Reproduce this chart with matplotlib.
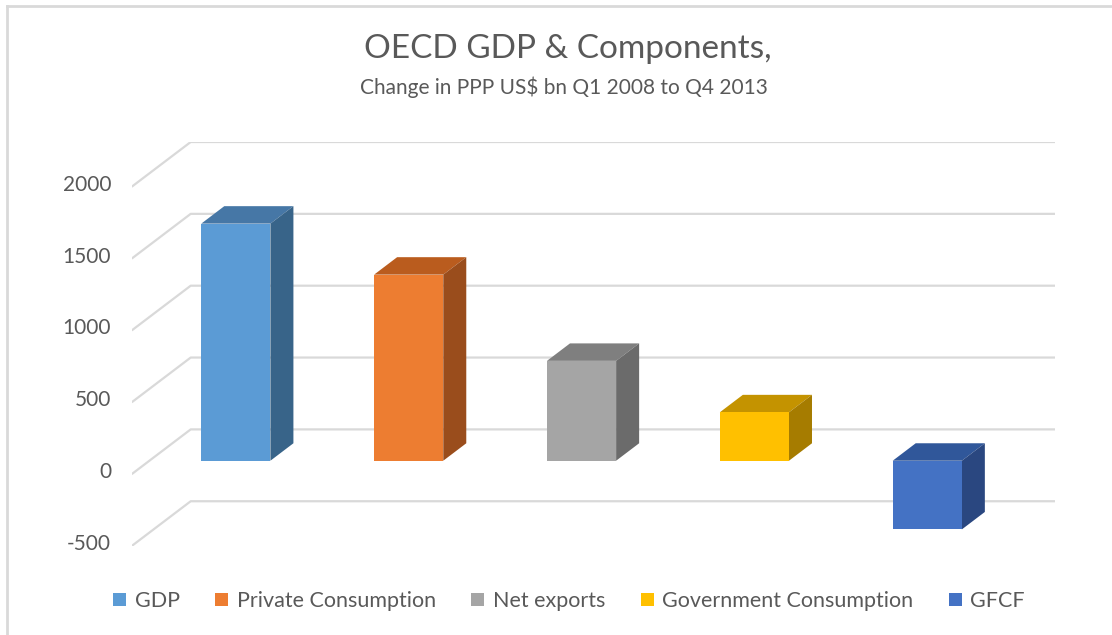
import matplotlib
matplotlib.use("Agg")
import matplotlib.pyplot as plt
from matplotlib.patches import Polygon, Patch
from matplotlib.transforms import ScaledTranslation
from matplotlib.lines import Line2D

# ---- data ----
categories = ["GDP", "Private Consumption", "Net exports", "Government Consumption", "GFCF"]
values = [1650, 1295, 695, 337, -478]
yticks = [-500, 0, 500, 1000, 1500, 2000]
front_colors = ["#5B9BD5", "#ED7D31", "#A5A5A5", "#FFC000", "#4472C4"]
top_colors = ["#4677A6", "#BA5C1E", "#7F7F7F", "#C49300", "#30579A"]
side_colors = ["#386489", "#9A4D1C", "#6B6B6B", "#A67C00", "#2A4780"]
title = "OECD GDP & Components,"
subtitle = "Change in PPP US$ bn Q1 2008 to Q4 2013"

FONT = ["Lato", "DejaVu Sans"]
plt.rcParams["font.family"] = FONT
TXT = "#595959"

W, H = 1112, 635
fig = plt.figure(figsize=(W / 100, H / 100), dpi=100)

# border (top + left visible)
fig.add_artist(Line2D([7 / W, 7 / W], [0, 1 - 6 / H], transform=fig.transFigure, color="#D9D9D9", lw=2))
fig.add_artist(Line2D([7 / W, 1], [1 - 6 / H, 1 - 6 / H], transform=fig.transFigure, color="#D9D9D9", lw=2))

x0px, x1px = 131.7, 1055.0
ytop_px, ybot_px = 142.0, 546.0
ax = fig.add_axes([x0px / W, 1 - ybot_px / H, (x1px - x0px) / W, (ybot_px - ytop_px) / H])

n = len(categories)
px_per_cat = (x1px - x0px) / (n + 59.0 / 172.85)
ddx = 59.0 / px_per_cat
px_per_val = 71.75 / 500
ddy = 44.7 / px_per_val

ax.set_xlim(-0.5, n - 0.5 + ddx)
ax.set_ylim(yticks[0], yticks[-1] + ddy)
for s in ax.spines.values():
    s.set_visible(False)
ax.set_xticks([])

# gridlines on side wall + back wall
for v in yticks:
    ax.plot([-0.5, -0.5 + ddx, n - 0.5 + ddx], [v, v + ddy, v + ddy],
            color="#D9D9D9", lw=1.6, zorder=1, solid_capstyle="butt")

d0, d1 = 0.30, 0.69
w = 0.40
xs = list(range(n))
ax.bar([x + d0 * ddx for x in xs], values, width=w, bottom=d0 * ddy,
       color=front_colors, zorder=3, linewidth=0)
for x, v, tc, sc in zip(xs, values, top_colors, side_colors):
    xl, xr = x - w / 2, x + w / 2
    t, b = max(v, 0), min(v, 0)
    top = [(xl + d0 * ddx, t + d0 * ddy), (xr + d0 * ddx, t + d0 * ddy),
           (xr + d1 * ddx, t + d1 * ddy), (xl + d1 * ddx, t + d1 * ddy)]
    side = [(xr + d0 * ddx, b + d0 * ddy), (xr + d1 * ddx, b + d1 * ddy),
            (xr + d1 * ddx, t + d1 * ddy), (xr + d0 * ddx, t + d0 * ddy)]
    ax.add_patch(Polygon(top, closed=True, facecolor=tc, edgecolor="none", zorder=2))
    ax.add_patch(Polygon(side, closed=True, facecolor=sc, edgecolor="none", zorder=2))

ax.set_yticks(yticks)
ax.set_yticklabels([str(v) for v in yticks])
ax.tick_params(axis="y", length=0, pad=20.7 * 0.72, labelsize=15, labelcolor=TXT)
for lab in ax.get_yticklabels():
    lab.set_transform(lab.get_transform() + ScaledTranslation(0, 4 / 100, fig.dpi_scale_trans))

fig.text(568 / W, 1 - 49 / H, title, ha="center", va="center", fontsize=24, color=TXT)
fig.text(564 / W, 1 - 87 / H, subtitle, ha="center", va="center", fontsize=15, color=TXT)

handles = [Patch(facecolor=c, edgecolor="none") for c in front_colors]
fig.legend(handles, categories, loc="center", bbox_to_anchor=(569 / W, 1 - 601 / H), ncol=n,
           frameon=False, fontsize=15.5, labelcolor=TXT, handlelength=0.6, handleheight=0.6,
           handletextpad=0.4, columnspacing=1.65)

fig.savefig("out.png", dpi=100)
